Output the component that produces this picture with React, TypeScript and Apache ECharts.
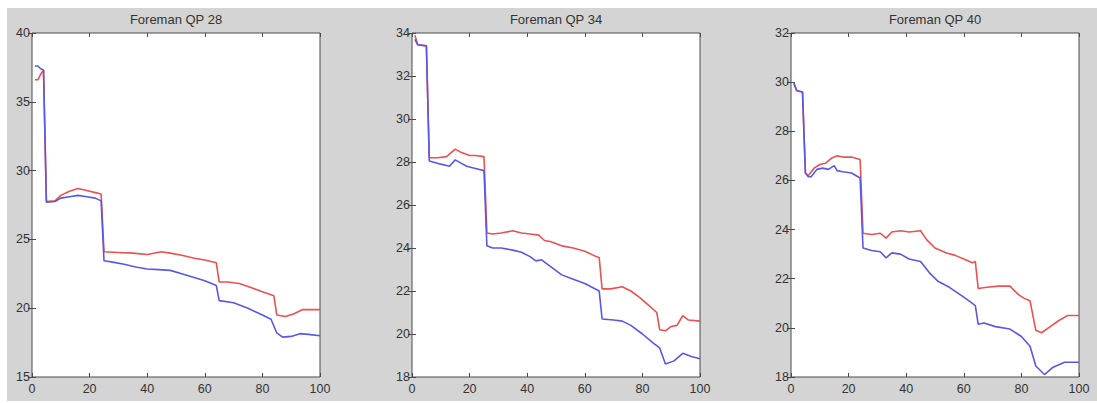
import React, { useEffect, useRef } from "react";
import * as echarts from "echarts";

const titles = ["Foreman QP 28", "Foreman QP 34", "Foreman QP 40"];

// Panel 1: Foreman QP 28
const qp28RedFrames = [1, 2, 3, 4, 5, 8, 10, 13, 16, 19, 22, 24, 25, 30, 35, 40, 45, 48, 52, 56, 60, 64, 65, 68, 72, 76, 80, 84, 85, 88, 91, 94, 97, 100];
const qp28Red = [36.6, 36.6, 37.0, 37.3, 27.75, 27.8, 28.2, 28.5, 28.7, 28.55, 28.4, 28.3, 24.1, 24.05, 24.0, 23.9, 24.1, 24.0, 23.85, 23.65, 23.5, 23.3, 21.9, 21.9, 21.8, 21.5, 21.2, 20.9, 19.5, 19.4, 19.6, 19.9, 19.9, 19.9];
const qp28BlueFrames = [1, 2, 3, 4, 5, 8, 10, 13, 16, 19, 22, 24, 25, 28, 32, 36, 40, 44, 48, 52, 56, 60, 64, 65, 70, 75, 80, 83, 85, 87, 90, 93, 96, 100];
const qp28Blue = [37.6, 37.6, 37.4, 37.3, 27.7, 27.75, 28.0, 28.1, 28.2, 28.1, 28.0, 27.8, 23.45, 23.35, 23.2, 23.0, 22.85, 22.8, 22.75, 22.5, 22.25, 22.0, 21.65, 20.55, 20.4, 20.0, 19.5, 19.2, 18.2, 17.9, 17.95, 18.15, 18.1, 18.0];

// Panel 2: Foreman QP 34
const qp34RedFrames = [1, 2, 5, 6, 9, 12, 15, 17, 20, 22, 25, 26, 28, 31, 35, 38, 41, 44, 46, 48, 52, 56, 60, 64, 65, 66, 69, 73, 76, 79, 82, 85, 86, 88, 90, 92, 94, 96, 100];
const qp34Red = [33.9, 33.45, 33.4, 28.2, 28.2, 28.25, 28.6, 28.45, 28.3, 28.3, 28.25, 24.7, 24.65, 24.7, 24.8, 24.7, 24.65, 24.6, 24.35, 24.3, 24.1, 24.0, 23.85, 23.6, 23.55, 22.1, 22.1, 22.2, 22.0, 21.7, 21.35, 21.0, 20.2, 20.15, 20.35, 20.4, 20.85, 20.65, 20.6];
const qp34BlueFrames = [1, 2, 5, 6, 10, 13, 15, 17, 19, 22, 25, 26, 28, 31, 35, 38, 41, 43, 45, 48, 52, 56, 60, 65, 66, 70, 73, 76, 80, 84, 86, 88, 91, 94, 97, 100];
const qp34Blue = [33.7, 33.45, 33.4, 28.05, 27.9, 27.8, 28.1, 27.95, 27.8, 27.7, 27.6, 24.1, 24.0, 24.0, 23.9, 23.8, 23.6, 23.4, 23.45, 23.15, 22.75, 22.55, 22.35, 22.0, 20.7, 20.65, 20.6, 20.4, 20.0, 19.55, 19.35, 18.6, 18.75, 19.1, 18.95, 18.85];

// Panel 3: Foreman QP 40
const qp40RedFrames = [1, 2, 4, 5, 6, 8, 10, 12, 14, 16, 18, 21, 24, 25, 28, 31, 33, 35, 38, 41, 45, 47, 50, 54, 57, 60, 63, 64, 65, 68, 72, 76, 79, 81, 83, 84, 85, 87, 90, 93, 96, 100];
const qp40Red = [29.95, 29.65, 29.6, 26.3, 26.2, 26.5, 26.65, 26.7, 26.9, 27.0, 26.95, 26.95, 26.85, 23.85, 23.8, 23.85, 23.65, 23.9, 23.95, 23.9, 23.95, 23.6, 23.25, 23.05, 22.95, 22.8, 22.65, 22.7, 21.6, 21.65, 21.7, 21.7, 21.35, 21.2, 21.1, 20.5, 19.9, 19.8, 20.05, 20.3, 20.5, 20.5];
const qp40BlueFrames = [1, 2, 4, 5, 6, 7, 9, 11, 13, 15, 16, 18, 21, 24, 25, 28, 31, 33, 35, 38, 41, 45, 48, 51, 55, 60, 63, 64, 65, 67, 71, 76, 80, 83, 85, 88, 91, 95, 100];
const qp40Blue = [29.95, 29.65, 29.6, 26.3, 26.15, 26.15, 26.45, 26.5, 26.45, 26.6, 26.4, 26.35, 26.3, 26.1, 23.25, 23.15, 23.1, 22.85, 23.05, 23.0, 22.8, 22.7, 22.25, 21.9, 21.65, 21.25, 21.0, 20.9, 20.15, 20.2, 20.05, 19.95, 19.65, 19.25, 18.45, 18.1, 18.4, 18.6, 18.6];

const yRanges = [
  { min: 15, max: 40, interval: 5 },
  { min: 18, max: 34, interval: 2 },
  { min: 18, max: 32, interval: 2 },
];
const xRange = { min: 0, max: 100, interval: 20 };

const panels = [
  { red: [qp28RedFrames, qp28Red], blue: [qp28BlueFrames, qp28Blue] },
  { red: [qp34RedFrames, qp34Red], blue: [qp34BlueFrames, qp34Blue] },
  { red: [qp40RedFrames, qp40Red], blue: [qp40BlueFrames, qp40Blue] },
];

const gridLefts = [32, 412, 791];
const GRID_W = 288;
const GRID_TOP = 33;
const GRID_H = 344;
const RED = "#ec5050";
const BLUE = "#5858e6";
const AXIS = "#4a4a4a";
const FONT = "Liberation Sans";

function pairs(frames: number[], vals: number[]) {
  return frames.map((f, i) => [f, vals[i]]);
}

export default function App() {
  const ref = useRef<HTMLDivElement>(null);
  useEffect(() => {
    if (!ref.current) return;
    const chart = echarts.init(ref.current, undefined, { renderer: "svg" });
    const grid: any[] = [];
    const xAxis: any[] = [];
    const yAxis: any[] = [];
    const series: any[] = [];
    const title: any[] = [];
    panels.forEach((p, i) => {
      grid.push({
        left: gridLefts[i],
        top: GRID_TOP,
        width: GRID_W,
        height: GRID_H,
        show: true,
        backgroundColor: "#ffffff",
        borderColor: AXIS,
        borderWidth: 1,
      });
      title.push({
        text: titles[i],
        left: gridLefts[i] + GRID_W / 2,
        top: 13,
        textAlign: "center",
        padding: 0,
        textStyle: { fontFamily: FONT, fontSize: 13, fontWeight: "normal", color: "#333" },
      });
      const tickStyle = { show: true, inside: true, length: 4, lineStyle: { color: AXIS } };
      xAxis.push({
        type: "value",
        gridIndex: i,
        position: "bottom",
        ...xRange,
        axisLine: { show: false },
        axisTick: tickStyle,
        splitLine: { show: false },
        axisLabel: { fontFamily: FONT, fontSize: 12.5, color: "#333", margin: 5 },
      });
      xAxis.push({
        type: "value",
        gridIndex: i,
        position: "top",
        ...xRange,
        axisLine: { show: false },
        axisTick: tickStyle,
        splitLine: { show: false },
        axisLabel: { show: false },
      });
      yAxis.push({
        type: "value",
        gridIndex: i,
        position: "left",
        ...yRanges[i],
        axisLine: { show: false },
        axisTick: tickStyle,
        splitLine: { show: false },
        axisLabel: { fontFamily: FONT, fontSize: 12.5, color: "#333", margin: 2 },
      });
      yAxis.push({
        type: "value",
        gridIndex: i,
        position: "right",
        ...yRanges[i],
        axisLine: { show: false },
        axisTick: tickStyle,
        splitLine: { show: false },
        axisLabel: { show: false },
      });
      series.push({
        type: "line",
        xAxisIndex: 2 * i,
        yAxisIndex: 2 * i,
        data: pairs(p.red[0], p.red[1]),
        showSymbol: false,
        symbol: "none",
        lineStyle: { color: RED, width: 1.6 },
        z: 2,
      });
      series.push({
        type: "line",
        xAxisIndex: 2 * i,
        yAxisIndex: 2 * i,
        data: pairs(p.blue[0], p.blue[1]),
        showSymbol: false,
        symbol: "none",
        lineStyle: { color: BLUE, width: 1.6 },
        z: 3,
      });
    });
    chart.setOption({
      animation: false,
      backgroundColor: "transparent",
      title,
      grid,
      xAxis,
      yAxis,
      series,
    });
    return () => chart.dispose();
  }, []);
  return (
    <div style={{ position: "absolute", left: 0, top: 0, width: 1097, height: 403, background: "#ffffff" }}>
      <div style={{ position: "absolute", left: 7, top: 8, width: 1090, height: 393, background: "#d4d4d4" }} />
      <div ref={ref} style={{ position: "absolute", left: 0, top: 0, width: 1097, height: 403 }} />
    </div>
  );
}
